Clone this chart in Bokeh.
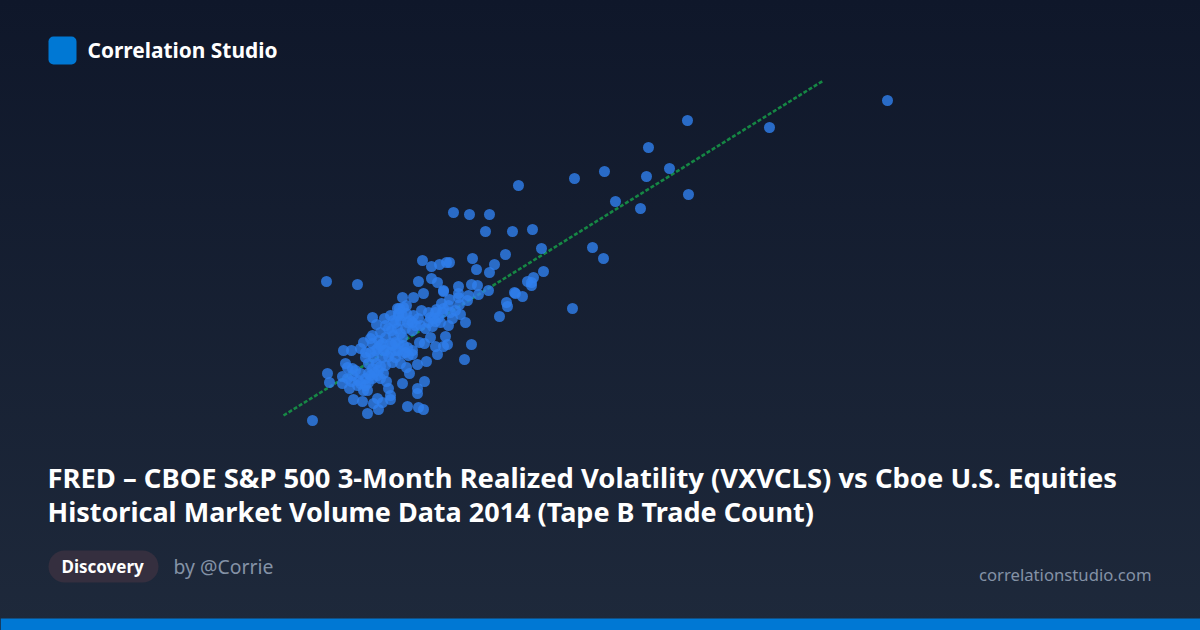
from bokeh.plotting import figure
from bokeh.models import BoxAnnotation, Label
from bokeh.embed import file_html
from bokeh.resources import INLINE

# Values (axes are hidden in the reference)
vxv = [88.7,76.9,68.7,64.8,66.9,60.4,57.4,64.6,68.8,51.8,61.5,64.0,45.3,46.9,48.9,48.5,51.2,53.2,54.1,59.2,60.3,54.3,57.2,32.6,35.7,31.2,
42.2,43.1,43.9,44.6,44.9,47.2,50.5,47.6,49.4,48.9,53.3,52.7,53.1,53.1,51.4,51.5,52.2,50.6,50.7,49.9,41.8,43.1,43.7,44.3,44.3,42.3,41.3,40.2,45.8,47.1,47.7,48.8,47.8,46.8,45.8,45.8,46.7,45.9,44.9,44.1,44.3,42.1,40.6,39.9,37.2,38.4,37.6,39.8,40.6,41.3,41.8,41.0,43.3,43.0,44.2,43.8,45.0,46.0,45.2,46.5,44.8,43.5,42.5,43.0,41.9,42.4,44.5,43.5,44.7,44.3,43.7,47.1,46.4,42.6,41.7,41.2,40.6,40.9,40.2,42.4,41.7,41.7,40.7,41.8,42.3,
32.7,32.9,
34.3,35.1,36.0,36.5,34.5,34.7,34.2,34.7,34.2,34.9,35.3,36.2,36.7,37.8,37.7,37.3,38.2,39.0,39.0,38.8,38.6,36.0,36.5,36.0,36.3,35.8,36.8,37.7,37.8,36.8,37.2,36.5,37.3,38.2,38.5,39.0,39.5,39.8,40.0,38.3,37.5,37.2,36.3,
39.7,40.3,39.8,39.3,40.0,40.7,38.8,39.7,40.5,41.2,39.3,40.2,38.5,37.2,37.0,38.2,39.0,39.8,40.7,41.2,39.5,38.5,37.7,40.2,40.8,
35.2,35.1,35.5,36.8,36.7,37.2,38.0,38.3,38.0,37.6,37.0,38.0,38.8,39.2,39.2,40.3,40.5,39.5,41.5,42.0,39.5,39.0,40.2,41.2,38.5,38.0,37.8,39.1,40.0,43.5,42.8,43.2,44.0,45.5,44.8,43.6,42.8,
35.2,35.7,36.5,37.4,37.0]
tape_b = [53.0,50.3,51.0,48.3,46.2,45.9,45.2,45.4,43.6,44.5,42.9,42.2,41.8,41.6,41.6,39.9,39.9,40.1,38.2,38.3,37.2,35.9,32.2,34.9,34.6,21.0,
37.0,36.4,36.6,36.8,36.8,37.2,37.6,36.1,36.6,35.8,35.3,34.9,34.8,34.5,33.8,33.7,33.4,32.8,32.4,31.4,34.9,35.2,34.8,34.0,33.9,33.7,33.3,33.3,34.4,34.6,34.5,34.0,33.6,33.5,33.7,33.3,33.0,32.6,33.1,32.7,32.2,32.0,32.5,32.2,31.3,31.2,30.6,31.5,31.7,31.5,31.2,31.0,31.2,31.3,31.8,31.3,31.8,31.6,31.2,30.8,30.5,30.9,30.2,29.3,28.8,28.7,29.4,28.4,28.6,28.4,27.6,28.6,27.1,26.9,26.6,27.6,26.3,25.7,24.7,24.9,24.2,23.7,22.4,22.3,22.1,
25.7,24.8,
28.0,28.0,28.2,27.8,26.7,26.3,25.4,25.2,24.7,24.2,23.1,22.9,21.7,22.1,23.2,22.7,22.8,23.1,23.5,24.2,24.9,25.7,25.2,24.7,24.0,25.0,25.7,25.5,26.0,26.7,26.2,27.3,27.3,27.3,26.5,27.8,27.3,28.0,26.7,28.0,28.0,28.7,28.8,
32.2,32.3,31.7,31.0,31.0,30.8,30.2,30.2,30.2,30.0,29.5,29.3,29.3,29.5,29.2,28.7,28.7,28.7,28.3,28.0,28.0,28.0,28.2,27.7,27.5,
25.5,24.9,26.0,24.8,24.0,25.2,25.2,25.7,26.4,26.7,27.8,28.5,27.4,26.8,28.5,28.5,27.8,28.8,30.5,30.5,30.8,31.5,31.5,30.8,30.5,29.8,29.0,30.0,29.7,31.8,30.8,30.4,30.8,32.0,32.5,32.1,31.8,
26.2,24.5,24.5,25.8,25.5]
fit_x = [28.3, 82.3]
fit_y = [21.5, 55.0]

title_lines = ["FRED – CBOE S&P 500 3-Month Realized Volatility (VXVCLS) vs Cboe U.S. Equities",
               "Historical Market Volume Data 2014 (Tape B Trade Count)"]
brand = "Correlation Studio"
tag = "Discovery"
author = "by @Corrie"
site = "correlationstudio.com"
FONT = "Noto Sans"

p = figure(width=1200, height=630, x_range=(0, 120), y_range=(0, 63),
           output_backend="svg", toolbar_location=None, min_border=0,
           x_axis_location=None, y_axis_location=None)
p.grid.visible = False
p.outline_line_color = None
p.background_fill_alpha = 0
p.border_fill_alpha = 0
p.styles = {"position": "absolute", "left": "0", "top": "0",
            "background": "linear-gradient(180deg, #0f172a 0%, #1e293b 100%)"}

p.line(fit_x, fit_y, line_color="#16a34a", line_alpha=0.8, line_width=2.6, line_dash="4 2")
p.scatter(vxv, tape_b, size=11, fill_color="#2f80ed", fill_alpha=0.8, line_color=None)

def Y(py):
    return (630 - py) / 10

def box(l, t, r, b, color, radius=0):
    p.add_layout(BoxAnnotation(left=l/10, right=r/10, top=Y(t), bottom=Y(b), fill_color=color,
                               fill_alpha=1, line_color=None, border_radius=radius, level="overlay"))

def label(px, py, text, size, color, style="normal", align="left"):
    p.add_layout(Label(x=px/10, y=Y(py), text=text, text_font=FONT, text_font_size=f"{size}px",
                       text_color=color, text_font_style=style, text_align=align,
                       text_baseline="alphabetic", level="overlay"))

box(48, 36, 76, 64, "#0078d4", 5)
box(0, 618, 1200, 630, "#0078d4")
box(48, 550, 158, 582, "#352f3f", 16)
label(87, 49, brand, 20.9, "#ffffff", "bold")
label(47, 477, title_lines[0], 27.4, "#ffffff", "bold")
label(47, 511, title_lines[1], 27.0, "#ffffff", "bold")
label(61, 566, tag, 17, "#ffffff", "bold")
label(173, 566, author, 19.4, "#8492a6")
label(1151, 574, site, 16.7, "#8492a6", align="right")

open("out.html", "w").write(file_html(p, INLINE))
